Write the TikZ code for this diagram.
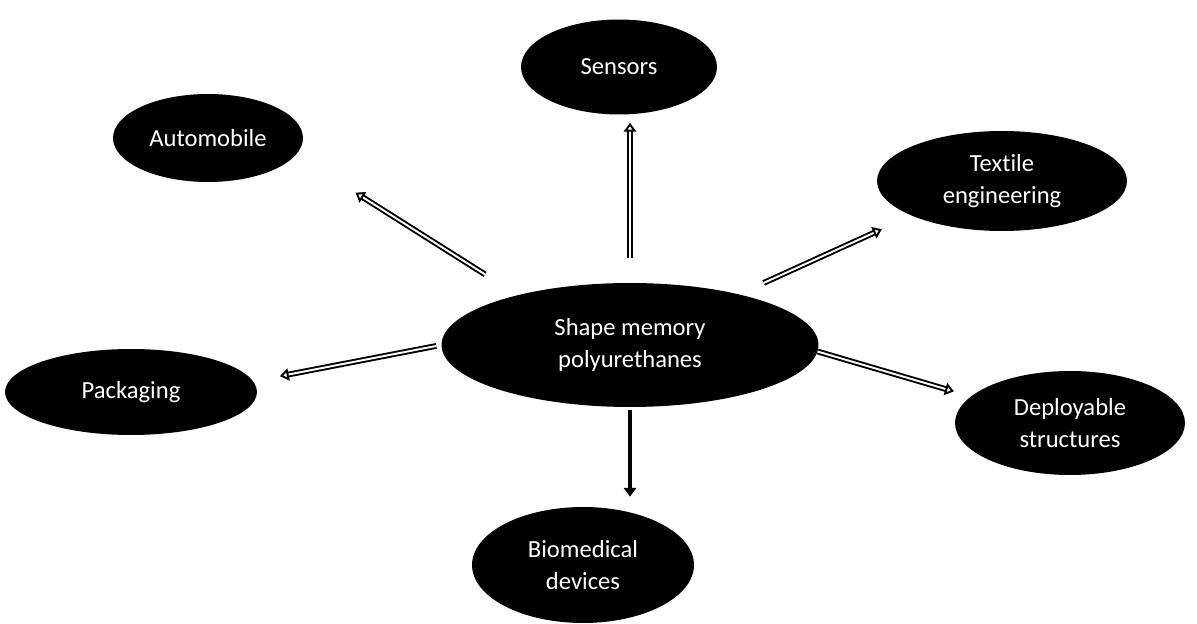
\documentclass[tikz,border=0pt]{standalone}
\usepackage{fontspec}
\setmainfont{Carlito}[Ligatures=NoCommon]
\usetikzlibrary{shapes.geometric,arrows.meta}

\begin{document}
\begin{tikzpicture}[x=0.02cm,y=-0.02cm,
  app/.style={ellipse, fill=black, text=white, inner sep=0pt, align=center, font=\fontsize{14}{18.5}\selectfont},
  link/.style={draw=black, double=white, double distance=1.1pt, line width=1.1pt, -{Triangle[open,length=5pt,width=7pt]}}]
  \useasboundingbox (0,0) rectangle (1197,624);
  \node[app, minimum width=3.92cm, minimum height=1.9cm] (sens) at (619,67) {Sensors};
  \node[app, minimum width=3.8cm, minimum height=1.76cm] (auto) at (208,138) {Automobile};
  \node[app, minimum width=5cm, minimum height=2cm] (text) at (1002,181) {Textile\\engineering};
  \node[app, minimum width=7.54cm, minimum height=2.48cm] (smp) at (630,345) {Shape memory\\polyurethanes};
  \node[app, minimum width=5.04cm, minimum height=1.72cm] (pack) at (131,392) {Packaging};
  \node[app, minimum width=4.6cm, minimum height=2.08cm] (depl) at (1070,423) {Deployable\\structures};
  \node[app, minimum width=4.44cm, minimum height=2.32cm] (bio) at (583,565) {Biomedical\\devices};
  \draw[link, shorten <=0.5cm, shorten >=0.16cm] (smp.north) -- (smp.north |- sens.south);
  \draw[link, shorten <=0.77cm, shorten >=1.41cm] (smp.156.8) -- (auto.-11);
  \draw[link, shorten <=0.54cm, shorten >=0.65cm] (smp.25.9) -- (text.201.5);
  \draw[link, shorten <=0.1cm, shorten >=0.54cm] (smp.west) -- (pack.5);
  \draw[link, shorten >=0.35cm] (smp.-2.2) -- (depl.165.6);
  \draw[line width=2pt, -{Triangle[length=5pt,width=7pt]}, shorten <=0.06cm, shorten >=0.2cm] (smp.south) -- (smp.south |- bio.north);
\end{tikzpicture}
\end{document}
